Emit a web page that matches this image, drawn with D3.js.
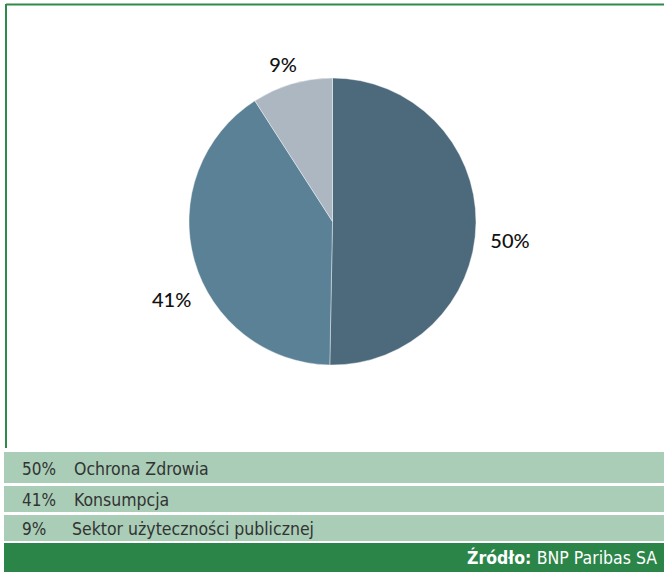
<!DOCTYPE html>
<html>
<head>
<meta charset="utf-8">
<script src="https://cdn.jsdelivr.net/npm/d3@7"></script>
<style>
  body { margin: 0; background: #fff; }
  svg { display: block; }
</style>
</head>
<body>
<svg id="chart" width="664" height="572"></svg>
<script>
// slice shares, labels as printed
var categories = ["Ochrona Zdrowia", "Konsumpcja", "Sektor użyteczności publicznej"]
var values = [50.3, 40.6, 9.1]
var labels = ["50%", "41%", "9%"]
var colors = ["#4d6a7d", "#5b8196", "#adb7c2"]

var svg = d3.select("#chart")

// green frame (top and left)
svg.append("line").attr("x1", 6).attr("x2", 664).attr("y1", 4.5).attr("y2", 4.5)
    .attr("stroke", "#2e8b4a").attr("stroke-width", 2)
svg.append("line").attr("x1", 6).attr("x2", 6).attr("y1", 4).attr("y2", 448)
    .attr("stroke", "#2e8b4a").attr("stroke-width", 2)

var cx = 332.5, cy = 221.5, r = 143.5

var pie = d3.pie().sort(null).value(function(d) { return d })
var arcs = pie(values)
var arc = d3.arc().innerRadius(0).outerRadius(r)

var g = svg.append("g").attr("transform", "translate(" + cx + "," + cy + ")")

g.selectAll(".slice")
    .data(arcs)
    .enter()
    .append("path")
    .attr("class", "slice")
    .attr("d", arc)
    .attr("fill", function(d, i) { return colors[i] })
    .attr("stroke", "#fff")
    .attr("stroke-width", 0.4)

// labels sit outside the slices, nudged the way the original tool placed them
var labelArc = d3.arc().innerRadius(r + 32).outerRadius(r + 32)
var nudge = [[2, 17], [8, 30], [0, 11]]
g.selectAll(".pie_label")
    .data(arcs)
    .enter()
    .append("text")
    .attr("class", "pie_label")
    .attr("x", function(d, i) { return labelArc.centroid(d)[0] + nudge[i][0] })
    .attr("y", function(d, i) { return labelArc.centroid(d)[1] + nudge[i][1] })
    .attr("text-anchor", "middle")
    .attr("dominant-baseline", "central")
    .style("font-family", "Lato, 'Open Sans', sans-serif")
    .style("font-size", "20px")
    .style("font-weight", "500")
    .attr("fill", "#111")
    .text(function(d, i) { return labels[i] })

// legend table
var rowTop = [452, 486, 515]
var rowH = [31, 26, 26]
var rows = svg.selectAll(".legend_row")
    .data(categories)
    .enter()
    .append("g")
    .attr("class", "legend_row")

rows.append("rect")
    .attr("x", 4)
    .attr("y", function(d, i) { return rowTop[i] })
    .attr("width", 660)
    .attr("height", function(d, i) { return rowH[i] })
    .attr("fill", "#a9cdb6")

var legendFont = "'DejaVu Sans Condensed', 'Liberation Sans Narrow', 'Roboto Condensed', sans-serif"
rows.append("text")
    .attr("x", 22)
    .attr("y", function(d, i) { return rowTop[i] + rowH[i] / 2 + 1 })
    .attr("dominant-baseline", "central")
    .style("font-family", legendFont)
    .style("font-size", "17px")
    .attr("fill", "#333")
    .text(function(d, i) { return labels[i] })

rows.append("text")
    .attr("x", function(d, i) { return i == 2 ? 72 : 74 })
    .attr("y", function(d, i) { return rowTop[i] + rowH[i] / 2 + 1 })
    .attr("dominant-baseline", "central")
    .style("font-family", legendFont)
    .style("font-size", "17.5px")
    .attr("fill", "#333")
    .text(function(d) { return d })

// source footer
svg.append("rect").attr("x", 4).attr("y", 543).attr("width", 660).attr("height", 29)
    .attr("fill", "#2b8549")

var src = svg.append("text")
    .attr("x", 657)
    .attr("y", 558)
    .attr("text-anchor", "end")
    .attr("dominant-baseline", "central")
    .style("font-family", legendFont)
    .style("font-size", "17.5px")
    .attr("fill", "#fff")
src.append("tspan").style("font-weight", "bold").text("Źródło: ")
src.append("tspan").text("BNP Paribas SA")
</script>
</body>
</html>
